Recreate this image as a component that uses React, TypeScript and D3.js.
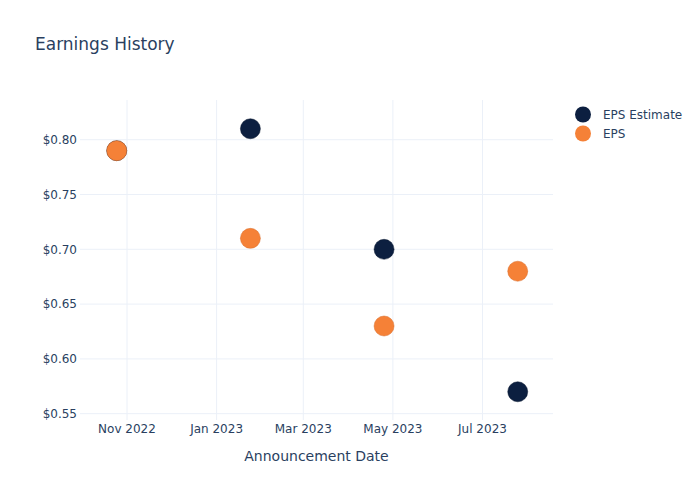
import React from "react";
import * as d3 from "d3";

const dates = ["2022-10-25", "2023-01-24", "2023-04-25", "2023-07-25"];
const epsEstimate = [0.79, 0.81, 0.7, 0.57];
const eps = [0.79, 0.71, 0.63, 0.68];
const yTicks = [0.55, 0.6, 0.65, 0.7, 0.75, 0.8];
const xTicks = ["2022-11-01", "2023-01-01", "2023-03-01", "2023-05-01", "2023-07-01"];
const seriesNames = ["EPS Estimate", "EPS"];
const colors = ["#0c1f40", "#f58137"];

const W = 700, H = 500;
const M = { l: 80, r: 147, t: 100, b: 80 };
const font = "'DejaVu Sans', Verdana, sans-serif";
const textColor = "#2a3f5f";

export default function App() {
  const parse = d3.utcParse("%Y-%m-%d");
  const x = d3
    .scaleUtc()
    .domain([parse("2022-09-30")!, parse("2023-08-18")!])
    .range([M.l, W - M.r]);
  const y = d3.scaleLinear().domain([0.5436, 0.8356]).range([H - M.b + 0.7, M.t + 0.7]);
  const fmtX = d3.utcFormat("%b %Y");
  const fmtY = (v: number) => "$" + v.toFixed(2);
  const series = [epsEstimate, eps];

  return (
    <svg width={W} height={H} style={{ position: "absolute", left: 0, top: 0, background: "#fff" }}>
      <text x={35} y={50} fontFamily={font} fontSize={17} fill={textColor}>
        Earnings History
      </text>
      {xTicks.map((t) => (
        <line key={t} x1={x(parse(t)!)} x2={x(parse(t)!)} y1={M.t} y2={H - M.b} stroke="#ebf0f8" strokeWidth={1} />
      ))}
      {yTicks.map((t) => (
        <line key={t} x1={M.l} x2={W - M.r} y1={y(t)} y2={y(t)} stroke="#ebf0f8" strokeWidth={1} />
      ))}
      {yTicks.map((t) => (
        <text key={t} x={M.l - 3} y={y(t)} dy="0.35em" textAnchor="end" fontFamily={font} fontSize={12} fill={textColor}>
          {fmtY(t)}
        </text>
      ))}
      {xTicks.map((t) => (
        <text key={t} x={x(parse(t)!)} y={433} textAnchor="middle" fontFamily={font} fontSize={12} fill={textColor}>
          {fmtX(parse(t)!)}
        </text>
      ))}
      <text x={(M.l + W - M.r) / 2} y={461} textAnchor="middle" fontFamily={font} fontSize={14} fill={textColor}>
        Announcement Date
      </text>
      {series.map((vals, si) =>
        vals.map((v, i) => (
          <circle
            key={si + "-" + i}
            cx={x(parse(dates[i])!)}
            cy={y(v)}
            r={10}
            fill={colors[si]}
            stroke={si === 0 ? "#0a1830" : "#d96d2a"}
            strokeWidth={0.5}
          />
        ))
      )}
      {seriesNames.map((n, i) => (
        <g key={n}>
          <circle cx={583} cy={114.5 + i * 19} r={8} fill={colors[i]} />
          <text x={603} y={114.5 + i * 19} dy="0.35em" fontFamily={font} fontSize={12} fill={textColor}>
            {n}
          </text>
        </g>
      ))}
    </svg>
  );
}
